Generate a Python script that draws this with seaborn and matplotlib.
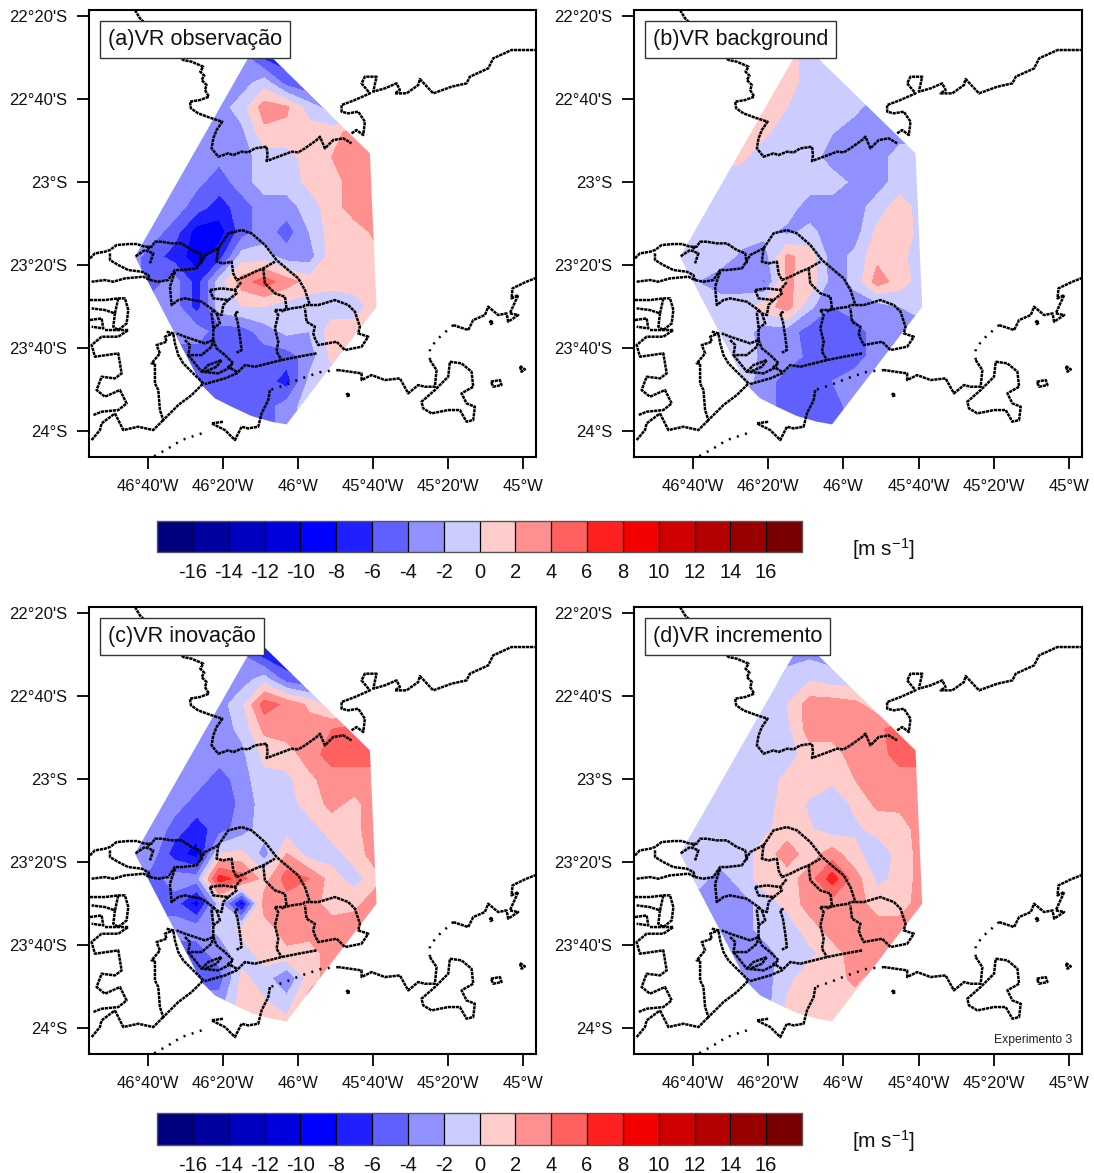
import numpy as np
import pandas as pd
import seaborn as sns
from matplotlib import pyplot as plt
from matplotlib.colors import BoundaryNorm, ListedColormap
from matplotlib.patches import Polygon

# grid nodes of the analysed radial wind field
lons = [-46.75, -46.65, -46.55, -46.45, -46.35, -46.25, -46.15, -46.05, -45.95, -45.85, -45.75, -45.65, -45.55]
lats = [-22.4, -22.5, -22.6, -22.7, -22.8, -22.9, -23.0, -23.1, -23.2, -23.3, -23.4, -23.5, -23.6, -23.7, -23.8, -23.9, -24.0]

vr_obs = [
    [-3, -3, -3, -3, -3, -3, -7, -7, -7, -7, -7, -7, -7],
    [-3, -3, -3, -3, -3, -3, -6.5, -7, -7, -7, -7, -7, -7],
    [-3, -3, -3, -3, -3, -3, -1, -5, -6, -6, -6, -6, -6],
    [-3, -3, -3, -3, -3, -1, 3, 2.3, -1, -3, -3, -3, -3],
    [-3, -3, -3, -3, -3, -2.5, 1.5, 1.5, 1, 1, 3, 3, 3],
    [-3, -3, -3, -3, -3.5, -3, -1, -1, 1, 2, 3, 3, 3],
    [-3, -3, -3, -3.5, -5, -3, -1, -1, 0.5, 1, 3, 3, 3],
    [-3, -3, -3, -5, -7, -5, -3, -3, -1, 1, 3, 3, 3],
    [-3, -3, -5, -9, -9, -5, -3, -5, -2, 1, 1, 2.5, 3],
    [-3, -5, -7, -9, -7, -1, -1, -3, -3, 1, 1, 1.5, 1],
    [-3, -5, -3, -7, -1, 3, 5, 3, 1, 0.5, 1, 1, 1],
    [-3, -3, -3, -7, -1, 0, 0, -1, -1, -1, -1, 1, 1],
    [-3, -3, -3, -3, -5, -5, -3, -1.5, -2, 1, 1, 1, 1],
    [-5, -5, -5, -5, -5, -5, -5, -5, -3, 0.5, 0, 0, 0],
    [-5, -5, -5, -5, -5, -5, -5, -7, -1.5, -1, -1, -1, -1],
    [-5, -5, -5, -5, -5, -5, -5, -3, -1, -1, -1, -1, -1],
    [-5, -5, -5, -5, -5, -5, -5, -3, -1, -1, -1, -1, -1],
]
vr_bg = [
    [1, 1, 1, 1, 1, 1, -1, -1, -1, -1, -1, -1, -1],
    [1, 1, 1, 1, 1, 1, -1, -1, -1, -1, -1, -1, -1],
    [1, 1, 1, 1, 1, 1, -1, -1, -1, -1, -1, -1, -1],
    [1, 1, 1, 1, 1, 0, -1, -1, -1.5, -3, -3, -3, -3],
    [1, 1, 1, 1, 0.3, -1, -1, -1.9, -3, -3, -3, -3, -3],
    [1, 1, 1, 0.3, -1, -1, -1, -3, -3, -3, -1, -1, -1],
    [-1, -1, -1, -1, -1, -1, -1, -1, -2.5, -3, -1, -1, -1],
    [-1, -1, -1, -1, -1, -1, -3, -3, -3, -1, 1, -1, -1],
    [-1, -1, -1, -1, -1.5, -2.5, -1.5, -3, -3, 0.5, 1.5, -1, -1],
    [-1, -1, -1, -2.5, -3, 2.5, 1, -3, -1.5, 1.5, 0.5, -1, -1],
    [-1, -2, -3, -3, -4.2, 2.2, 1.5, -3, -1.5, 3, 1, -1, -1],
    [-1, -1, -1, -1, 1, 3, -1.5, -4, -3, -3, -2, -1, -1],
    [-1, -1, -1, -1, -3, -3, -5, -5, -5, -3, -3, -3, -3],
    [-1, -1, -1, -1, -2.5, -3, -4.5, -5, -5, -3, -3, -3, -3],
    [-1, -1, -1, -1, -3, -5, -5, -4, -3, -3, -3, -3, -3],
    [-3, -3, -3, -3, -3, -5, -5, -5, -3, -3, -3, -3, -3],
    [-3, -3, -3, -3, -3, -5, -5, -5, -3, -3, -3, -3, -3],
]
vr_inov = [
    [-5, -5, -5, -5, -5, -5, -7, -7, -7, -7, -7, -7, -7],
    [-3, -3, -3, -3, -3, -4, -7, -8, -8, -8, -8, -8, -8],
    [-3, -3, -3, -3, -3, -3, -1, -5, -6, -6, -6, -6, -6],
    [-3, -3, -3, -3, -3, -0.5, 5, 3.5, 1.5, -1, -1, -1, -1],
    [-3, -3, -3, -3, -3, -1.5, 2.5, 3, 3, 4, 5, 5, 5],
    [-3, -3, -3, -2, -3, -2.5, 0.5, 1, 3, 5, 5, 5, 5],
    [-3, -3, -3, -3, -5, -3, -0.5, -0.5, 1.5, 3, 3, 3, 5],
    [-3, -3, -3, -5, -5.5, -3.5, -1, -1, 1, 2.5, 1.5, 3, 5],
    [-3, -2, -5, -7, -5, -3, -1, -1, -1, 1, 1, 4, 5],
    [-3, -3, -7, -9, 0, 0.5, -3, 2, -1, -1, 1, 3, 3],
    [-3, -5, -3, -3, 7, 5, 1, 5, 4, 1, -1, 1.5, 3],
    [-5, -5, -5, -9, -1, -9, 3, 3, 3, 1, 1.5, 3, 3],
    [-3, -3, -3, -3, -1.5, 0.5, 1, 3, 3, 3, 3, 3, 3],
    [-5, -5, -5, -5, -3, -1, 1, 1.5, 1, 3, 3, 3, 3],
    [-5, -5, -5, -5, -5, 0.5, -1, -4, 1, 3, 3, 3, 3],
    [-3, -3, -3, -3, -3, 1, 0.3, -1, 3, 3, 3, 3, 3],
    [-3, -3, -3, -3, -3, 1, 1, 1, 1, 1, 1, 1, 1],
]
vr_incr = [
    [-3, -3, -3, -3, -3, -3, -3, -3, -3, -3, -3, -3, -3],
    [-3, -3, -3, -3, -3, -2.5, -2.5, -3, -3, -3, -3, -3, -3],
    [-3, -3, -3, -3, -3, -1.5, -0.2, -1, -1, -1, -1, -1, -1],
    [-3, -3, -3, -3, -1.5, 0, 3, 3, 2.5, 1, 1, 1, 1],
    [-3, -3, -3, -1.5, -1, -0.6, 3, 3, 3, 3.5, 5, 5, 5],
    [-1, -1, -1, -1, -1, -1, 1, 1, 3, 3, 5, 5, 5],
    [-1, -1, -1, -1, -1, 0.5, 1, 0.3, 2, 3, 3, 3, 3],
    [-1, -1, -1, -1, -1, 1, -0.3, -1, 0.3, 2.5, 2.5, 3, 3],
    [-1, -1, -1, -1, -0.5, 1, 0.2, -1, -0.3, 0.5, 1, 3, 3],
    [-1, -1, -1, -1, 1, 3, 1, 3, 0.5, -1, 0.5, 3, 3],
    [-1, -1, -3, -1, 1, 1, 3, 7, 3, -0.5, 0.5, 3, 3],
    [-3, -3, -3, -3, -1, 0.5, 3, 3, 3, 1, 1, 3, 3],
    [-3, -3, -3, -3, -1, -1, 1, 3, 3, 3, 3, 3, 3],
    [-3, -3, -3, -3, -3, -1, -0.5, 1, 3, 3, 3, 3, 3],
    [-3, -3, -3, -3, -3, -0.5, 1, 1, 2.5, 1, 1, 1, 1],
    [-3, -3, -3, -3, -3, 0.2, 1, 1, 1, 1, 1, 1, 1],
    [-3, -3, -3, -3, -3, 1, 1, 1, 1, 1, 1, 1, 1],
]

panel_titles = ["(a)VR observação", "(b)VR background", "(c)VR inovação", "(d)VR incremento"]
panel_fields = [vr_obs, vr_bg, vr_inov, vr_incr]

levels = list(range(-18, 19, 2))
cbar_ticks = list(range(-16, 17, 2))
cbar_labels = [str(t) for t in cbar_ticks]
band_colors = [
    "#00007f", "#00009f", "#0000bf", "#0000df", "#0000ff", "#2020ff", "#6060ff", "#9090ff", "#ccccff",
    "#ffcccc", "#ff9090", "#ff6060", "#ff2020", "#f50000", "#d00000", "#b40000", "#980000", "#780000",
]
lon_ticks = [-46 - 40 / 60, -46 - 20 / 60, -46, -45 - 40 / 60, -45 - 20 / 60, -45]
lon_labels = ["46°40'W", "46°20'W", "46°W", "45°40'W", "45°20'W", "45°W"]
lat_ticks = [-22 - 20 / 60, -22 - 40 / 60, -23, -23 - 20 / 60, -23 - 40 / 60, -24]
lat_labels = ["22°20'S", "22°40'S", "23°S", "23°20'S", "23°40'S", "24°S"]

# outlines, in digitiser units (see to_lonlat)
radar_domain = [(505, 132), (535, 132), (855, 445), (875, 905), (605, 1258), (560, 1250), (500, 1233),
                (440, 1205), (390, 1180), (350, 1140), (150, 755)]
north_lines = [
    # state border and north coast
    [(150, 15), (165, 40), (295, 165), (320, 170), (355, 185), (346, 200), (358, 212), (350, 225), (365, 240),
     (360, 255), (372, 275), (345, 285), (315, 290), (318, 310), (340, 325), (375, 338), (412, 350), (395, 375),
     (385, 400), (380, 430), (400, 455), (430, 445), (445, 450), (470, 440), (490, 442), (510, 430), (545, 425),
     (548, 450), (545, 468), (580, 455), (620, 440), (640, 442), (660, 430), (695, 405), (705, 395), (720, 430),
     (745, 405), (775, 400), (800, 415)],
    [(800, 385), (815, 375), (835, 390), (840, 350), (820, 320), (790, 325), (770, 320), (770, 300), (810, 285),
     (855, 265), (830, 235), (840, 215), (875, 215), (865, 260), (900, 250), (935, 235), (945, 255), (930, 265),
     (965, 265), (1000, 240), (1005, 222), (1045, 265), (1100, 245), (1145, 235), (1155, 215), (1210, 190),
     (1225, 160), (1280, 135), (1350, 135)],
]
south_lines = [
    # municipalities
    [(15, 85), (30, 70), (60, 65), (75, 60), (95, 45), (130, 42), (155, 42), (180, 50), (200, 50), (210, 35),
     (230, 35), (260, 40), (290, 40), (320, 60), (345, 70), (350, 100)],
    [(195, 50), (185, 62), (205, 70), (195, 100)],
    [(180, 60), (150, 80)],
    [(400, 55), (360, 75), (345, 100), (335, 115), (290, 120), (270, 120), (250, 150), (220, 155), (195, 150),
     (175, 140), (120, 145), (85, 155), (60, 150), (20, 155)],
    [(75, 70), (75, 90), (100, 105), (130, 120), (170, 125), (190, 135), (195, 150)],
    [(400, 55), (430, 10), (470, 0), (500, 10), (540, 45), (575, 90), (610, 120), (640, 145), (660, 180), (675, 225)],
    [(400, 55), (395, 95), (415, 100), (440, 95), (445, 130), (455, 150), (480, 140), (510, 125), (535, 115), (570, 95)],
    [(535, 115), (540, 160), (570, 190), (600, 200), (605, 235), (590, 245)],
    [(270, 125), (255, 170), (260, 225), (280, 210), (300, 205), (350, 215), (385, 240), (380, 250), (385, 290),
     (385, 330), (360, 340), (330, 330), (300, 320), (275, 310)],
    [(375, 180), (410, 175), (450, 180), (470, 155)],
    [(375, 180), (385, 205), (430, 210), (455, 190), (450, 180)],
    [(430, 210), (415, 225), (410, 255), (395, 250), (385, 240)],
    [(395, 250), (405, 280), (385, 295)],
    [(570, 240), (580, 255), (570, 295), (580, 335), (575, 365), (590, 390)],
    [(570, 240), (600, 240), (620, 235), (655, 230), (660, 225), (700, 225), (750, 210), (790, 225), (810, 245),
     (825, 290), (820, 310), (850, 320), (830, 350), (780, 360), (755, 335), (700, 345), (690, 325), (685, 310),
     (690, 290), (665, 275), (660, 235)],
    [(695, 370), (640, 380), (590, 390), (510, 410), (480, 405), (455, 430), (420, 445), (360, 462)],
    [(460, 245), (450, 250), (458, 275), (465, 320), (470, 360), (455, 368)],
    [(385, 330), (395, 355), (420, 375), (445, 400), (430, 410), (455, 425)],
    [(300, 330), (315, 345), (310, 375), (350, 375), (380, 350), (385, 330)],
    [(310, 375), (330, 400), (350, 425), (400, 430), (440, 410)],
    [(350, 425), (370, 405), (410, 390), (395, 410), (360, 425)],
    [(245, 305), (265, 310), (270, 340), (280, 375), (295, 400), (320, 425), (355, 460), (320, 495), (280, 525),
     (235, 570), (225, 540), (220, 480), (210, 460), (210, 400), (200, 400), (225, 370), (215, 345), (245, 335),
     (240, 320), (265, 310)],
    [(15, 210), (60, 210), (100, 205), (120, 205), (130, 240), (125, 280), (100, 300), (85, 290), (90, 250), (60, 240), (20, 235)],
    [(90, 250), (100, 205)],
    [(15, 270), (50, 265), (55, 295), (20, 290)],
    [(60, 300), (130, 300), (100, 320), (50, 320), (20, 345), (30, 380), (100, 370), (110, 430), (90, 445), (50, 440),
     (35, 480), (60, 500), (105, 480), (125, 520), (100, 540), (50, 545), (25, 555)],
    [(90, 550), (115, 600), (160, 590), (205, 600), (235, 570)],
    [(20, 630), (45, 600), (50, 580), (90, 550)],
    # island and islets
    [(1095, 395), (1130, 400), (1160, 425), (1165, 470), (1130, 490), (1145, 520), (1170, 530), (1165, 570),
     (1145, 575), (1125, 540), (1090, 540), (1040, 550), (1015, 535), (1010, 515), (1050, 480), (1090, 440), (1095, 395)],
    [(1218, 455), (1245, 450), (1250, 465), (1225, 470), (1218, 455)],
    [(1305, 408), (1320, 418), (1310, 425), (1305, 408)],
    [(785, 490), (795, 495), (788, 498), (785, 490)],
    [(1215, 272), (1225, 277), (1218, 282), (1215, 272)],
    # coast
    [(1355, 143), (1320, 157), (1283, 175), (1280, 205), (1300, 195), (1275, 250), (1300, 255), (1270, 275),
     (1265, 250), (1240, 255), (1210, 230), (1200, 255), (1165, 270), (1150, 300), (1105, 285)],
    [(1035, 390), (1055, 420), (1050, 470), (1020, 470), (1000, 465), (970, 490), (945, 445), (900, 450), (860, 435),
     (830, 450), (830, 430), (760, 420)],
    [(555, 480), (550, 510), (530, 550), (520, 590), (490, 595), (470, 590), (450, 630), (420, 600), (380, 580), (415, 575)],
]
# stretches where the coast breaks up into single dots
sparse_lines = [
    [(1105, 285), (1060, 325), (1035, 355), (1035, 390)],
    [(760, 420), (710, 425), (650, 445), (600, 465), (555, 480)],
    [(350, 610), (290, 630), (250, 655), (205, 680)],
]


def to_lonlat(points, dy=0):
    pts = np.array(points, dtype=float)
    return -46.947 + pts[:, 0] / 675, -22.289 - (pts[:, 1] + dy) / 747


sns.set_theme(style="white", rc={"axes.linewidth": 1.5, "axes.unicode_minus": False})
plt.rcParams["font.family"] = ["Liberation Sans", "DejaVu Sans"]
plt.rcParams["mathtext.default"] = "regular"

W, H = 1094, 1173
fig = plt.figure(figsize=(W / 100, H / 100), dpi=100)
cmap = ListedColormap(sns.color_palette(band_colors))
norm = BoundaryNorm(levels, cmap.N)


def px_axes(left, top, right, bottom):
    return fig.add_axes([left / W, 1 - bottom / H, (right - left) / W, (bottom - top) / H])


def draw_outline(ax, line_x, line_y, style=(0, (1.3, 0.3))):
    df = pd.DataFrame({"lon": line_x, "lat": line_y})
    sns.lineplot(data=df, x="lon", y="lat", ax=ax, sort=False, estimator=None, color="black",
                 linewidth=1.8, linestyle=style, legend=False)


frames = [(89, 10, 536, 457), (634, 10, 1082, 457), (89, 607, 536, 1054), (634, 607, 1082, 1054)]
for frame, field, title in zip(frames, panel_fields, panel_titles):
    ax = px_axes(*frame)
    cs = ax.contourf(lons, lats, np.array(field), levels=levels, cmap=cmap, norm=norm)
    dom_x, dom_y = to_lonlat(radar_domain)
    clip = Polygon(np.column_stack([dom_x, dom_y]), transform=ax.transData, fill=False, edgecolor="none")
    ax.add_patch(clip)
    cs.set_clip_path(clip)

    for line in north_lines:
        draw_outline(ax, *to_lonlat(line))
    for line in south_lines:
        draw_outline(ax, *to_lonlat(line, dy=675))
    for line in sparse_lines:
        draw_outline(ax, *to_lonlat(line, dy=675), style=(0, (0.8, 2.6)))

    ax.set_xlim(-46.929, -44.942)
    ax.set_ylim(-24.104, -22.309)
    ax.set_xlabel("")
    ax.set_ylabel("")
    ax.set_xticks(lon_ticks, lon_labels, fontsize=12)
    ax.set_yticks(lat_ticks, lat_labels, fontsize=12)
    ax.tick_params(length=8.8, width=1.3, color="black", labelcolor="#111111", pad=7, bottom=True, left=True)
    for spine in ax.spines.values():
        spine.set_color("black")
    ax.text(0.0425, 0.934, title, transform=ax.transAxes, fontsize=15.6, color="#111111", va="center", ha="left", zorder=6,
            bbox=dict(boxstyle="square,pad=0.36", facecolor="white", edgecolor="#333333", linewidth=1))
    if title.startswith("(d)"):
        ax.text(0.978, 0.031, "Experimento 3", transform=ax.transAxes, fontsize=8.7, color="#222222",
                ha="right", va="center")

for top, bottom in [(521, 552), (1113, 1145)]:
    cax = px_axes(157, top, 802, bottom)
    mappable = plt.cm.ScalarMappable(norm=norm, cmap=cmap)
    cbar = fig.colorbar(mappable, cax=cax, orientation="horizontal", ticks=cbar_ticks, drawedges=True)
    cbar.set_ticklabels(cbar_labels)
    cbar.dividers.set_color("black")
    cbar.dividers.set_linewidth(0.9)
    cbar.outline.set_edgecolor("#555555")
    cbar.outline.set_linewidth(1)
    cbar.ax.tick_params(which="both", length=0, labelsize=14.5, pad=8, labelcolor="#111111")
    fig.text(884 / W, 1 - (top + 28) / H, "[m s$^{-1}$]", fontsize=15, color="#111111", ha="center", va="center")

fig.savefig("out.png", dpi=100)
